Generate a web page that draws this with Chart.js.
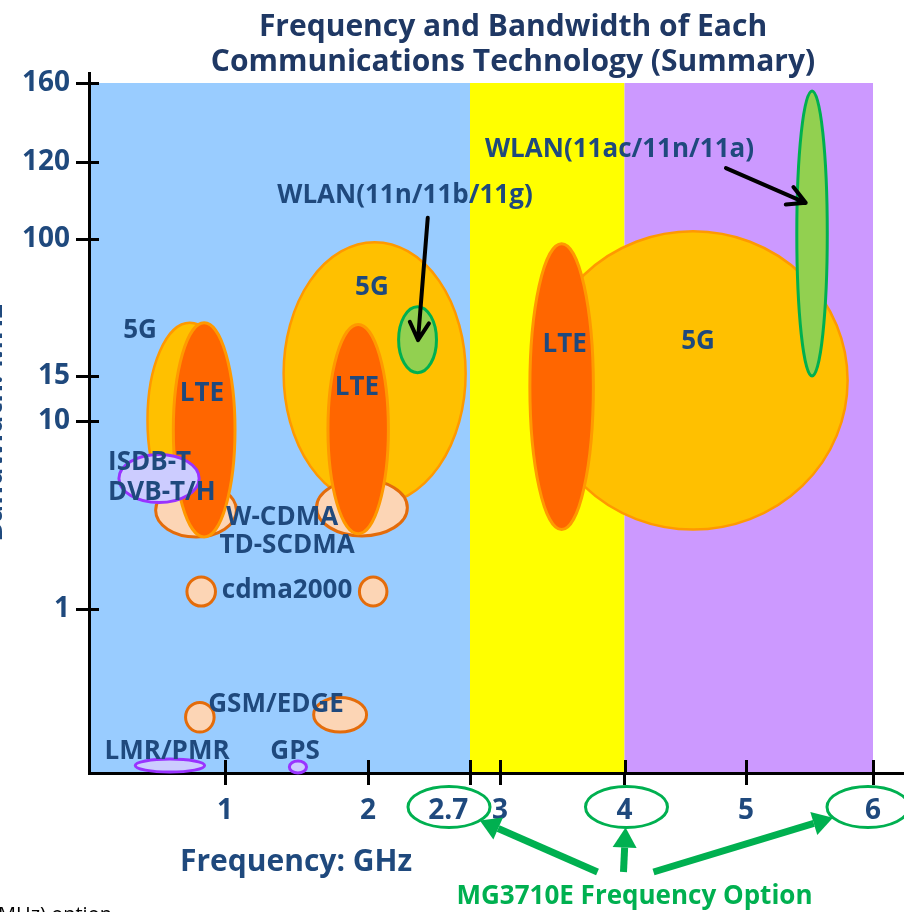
<!DOCTYPE html>
<html>
<head>
<meta charset="utf-8">
<script src="https://cdn.jsdelivr.net/npm/chart.js@4.4.1/dist/chart.umd.min.js"></script>
<style>
  html, body { margin: 0; padding: 0; background: #fff; overflow: hidden; width: 904px; height: 912px; }
  #wrap { position: absolute; left: -60px; top: 0; width: 1146px; height: 912px; }
</style>
</head>
<body>
<div id="wrap"><canvas id="chart" width="1146" height="912"></canvas></div>
<script>
// ---------------------------------------------------------------------------
// Data: frequency in GHz, channel bandwidth in MHz.
// Each region is [fLow, fHigh, bwLow, bwHigh].
// ---------------------------------------------------------------------------
const freqTicks   = [1, 2, 2.7, 3, 4, 5, 6];          // GHz
const bwTicks     = [1, 10, 15, 100, 120, 160];       // MHz
const optionFreqs = [2.7, 4, 6];                      // MG3710E frequency options (GHz)

const spectrumBands = [[0, 2.7], [2.7, 4], [4, 6]];   // shaded frequency ranges (GHz)
const bandTopBw = 160;                                // MHz

const technologies = ['5G', 'W-CDMA/TD-SCDMA', 'LTE', 'ISDB-T/DVB-T/H', 'WLAN',
                      'cdma2000', 'GSM/EDGE', 'LMR/PMR', 'GPS'];

const fiveG    = [[0.43, 1.05, 5.4, 48], [1.41, 2.67, 6.0, 98], [3.31, 5.80, 4.8, 102]];
const wcdma    = [[0.49, 1.08, 4.45, 7.0], [1.64, 2.27, 4.5, 7.2]];
const lte      = [[0.62, 1.07, 4.45, 48], [1.72, 2.14, 4.6, 47], [3.24, 3.75, 4.8, 97]];
const isdb     = [[0.22, 0.81, 6.1, 8.4]];
const wlan     = [[2.21, 2.47, 17, 58], [5.40, 5.64, 15, 156]];
const cdma2000 = [[0.72, 0.93, 1.14, 2.53], [1.94, 2.13, 1.14, 2.53]];
const gsm      = [[0.71, 0.92, 0.25, 0.43], [1.62, 1.99, 0.25, 0.46]];
const lmr      = [[0.34, 0.85, 0.006, 0.085]];
const gps      = [[1.45, 1.57, 0.0, 0.073]];

const regions = {
  '5G': fiveG, 'W-CDMA/TD-SCDMA': wcdma, 'LTE': lte, 'ISDB-T/DVB-T/H': isdb, 'WLAN': wlan,
  'cdma2000': cdma2000, 'GSM/EDGE': gsm, 'LMR/PMR': lmr, 'GPS': gps
};

// ---------------------------------------------------------------------------
// Styles
// ---------------------------------------------------------------------------
const NAVY = '#1F497D';
const TITLE_NAVY = '#1F3864';
const GREEN = '#00B050';
const FONT = '"Open Sans", "Noto Sans", sans-serif';

const bandColors = ['#99CCFF', '#FFFF00', '#CC99FF'];

const regionStyles = {
  '5G':              { fill: '#FFC000', line: '#FF9900', width: 2.5 },
  'W-CDMA/TD-SCDMA': { fill: '#FCD5B5', line: '#E46C0A', width: 3 },
  'LTE':             { fill: '#FF6600', line: '#FF9900', width: 3 },
  'ISDB-T/DVB-T/H':  { fill: '#CCCCFF', line: '#9933FF', width: 3 },
  'WLAN':            { fill: '#92D050', line: '#00B050', width: 3 },
  'cdma2000':        { fill: '#FCD5B5', line: '#E46C0A', width: 3 },
  'GSM/EDGE':        { fill: '#FCD5B5', line: '#E46C0A', width: 3 },
  'LMR/PMR':         { fill: '#CCCCFF', line: '#9933FF', width: 3 },
  'GPS':             { fill: '#CCCCFF', line: '#9933FF', width: 3 }
};

// Text labels placed in axis units (GHz, MHz)
const regionLabels = [
  { text: '5G',        f: 0.375, bw: 42.9 },
  { text: 'LTE',       f: 0.83,  bw: 13.1 },
  { text: 'LTE',       f: 1.923, bw: 13.7 },
  { text: '5G',        f: 2.027, bw: 69.6 },
  { text: 'WLAN(11n/11b/11g)',  f: 2.254, bw: 111.2 },
  { text: 'WLAN(11ac/11n/11a)', f: 3.96,  bw: 126.1 },
  { text: 'LTE',       f: 3.52,  bw: 34.2 },
  { text: '5G',        f: 4.605, bw: 36.1 },
  { text: 'ISDB-T',    f: 0.14,  bw: 7.99, align: 'left' },
  { text: 'DVB-T/H',   f: 0.14,  bw: 6.55, align: 'left' },
  { text: 'W-CDMA',    f: 1.40,  bw: 5.36 },
  { text: 'TD-SCDMA',  f: 1.434, bw: 4.02 },
  { text: 'cdma2000',  f: 1.434, bw: 1.86 },
  { text: 'GSM/EDGE',  f: 1.357, bw: 0.42 },
  { text: 'LMR/PMR',   f: 0.574, bw: 0.128 },
  { text: 'GPS',       f: 1.49,  bw: 0.128 }
];

// Pointer arrows from the WLAN captions to their regions (axis units)
const pointers = [
  { from: [2.41, 105.5],  to: [2.343, 37.3] },
  { from: [4.835, 118.4], to: [5.47, 109.4] }
];

// ---------------------------------------------------------------------------
// A linear scale with a piecewise (schematic) spacing between anchor values.
// Anchors are [value, axis position]; positions are normalised by the last one.
// ---------------------------------------------------------------------------
const WARP = {
  x: [[0, 0], [1, 136], [2, 279], [2.7, 381], [3, 411], [4, 535.5], [5, 657], [6, 784], [7.677, 997]],
  y: [[0, 0], [1, 164], [10, 352], [15, 397], [100, 534], [120, 611], [160, 690], [165, 700]]
};

function warpDecimal(anchors, v) {
  const total = anchors[anchors.length - 1][1];
  for (let i = 1; i < anchors.length; i++) {
    const [v0, p0] = anchors[i - 1];
    const [v1, p1] = anchors[i];
    if (v <= v1 || i === anchors.length - 1) {
      return (p0 + (v - v0) * (p1 - p0) / (v1 - v0)) / total;
    }
  }
  return 0;
}

function unwarpDecimal(anchors, d) {
  const total = anchors[anchors.length - 1][1];
  const p = d * total;
  for (let i = 1; i < anchors.length; i++) {
    const [v0, p0] = anchors[i - 1];
    const [v1, p1] = anchors[i];
    if (p <= p1 || i === anchors.length - 1) {
      return v0 + (p - p0) * (v1 - v0) / (p1 - p0);
    }
  }
  return 0;
}

class WarpScale extends Chart.LinearScale {
  getPixelForValue(value) {
    if (value === null || value === undefined || isNaN(value)) return NaN;
    return this.getPixelForDecimal(warpDecimal(WARP[this.axis], value));
  }
  getValueForPixel(pixel) {
    return unwarpDecimal(WARP[this.axis], this.getDecimalForPixel(pixel));
  }
}
WarpScale.id = 'warp';
Chart.register(WarpScale);

// ---------------------------------------------------------------------------
// Datasets: each region is carried by its two corner points
// ---------------------------------------------------------------------------
const datasets = [];
technologies.forEach(tech => {
  regions[tech].forEach(r => {
    const st = regionStyles[tech];
    datasets.push({
      label: tech,
      data: [{ x: r[0], y: r[2] }, { x: r[1], y: r[3] }],
      backgroundColor: st.fill,
      borderColor: st.line,
      borderWidth: st.width,
      pointRadius: 0,
      pointHoverRadius: 0,
      showLine: false
    });
  });
});

function arrowLine(ctx, x0, y0, x1, y1, width, head, color) {
  const ang = Math.atan2(y1 - y0, x1 - x0);
  ctx.save();
  ctx.strokeStyle = color;
  ctx.lineWidth = width;
  ctx.lineCap = 'round';
  ctx.lineJoin = 'round';
  ctx.beginPath();
  ctx.moveTo(x0, y0);
  ctx.lineTo(x1, y1);
  ctx.moveTo(x1 - head * Math.cos(ang - 0.5), y1 - head * Math.sin(ang - 0.5));
  ctx.lineTo(x1, y1);
  ctx.lineTo(x1 - head * Math.cos(ang + 0.5), y1 - head * Math.sin(ang + 0.5));
  ctx.stroke();
  ctx.restore();
}

function blockArrow(ctx, x0, y0, x1, y1, width, headLen, headHalf, color) {
  const ang = Math.atan2(y1 - y0, x1 - x0);
  const bx = x1 - headLen * Math.cos(ang), by = y1 - headLen * Math.sin(ang);
  ctx.save();
  ctx.strokeStyle = color;
  ctx.fillStyle = color;
  ctx.lineWidth = width;
  ctx.beginPath();
  ctx.moveTo(x0, y0);
  ctx.lineTo(bx, by);
  ctx.stroke();
  ctx.beginPath();
  ctx.moveTo(x1, y1);
  ctx.lineTo(bx + headHalf * Math.sin(ang), by - headHalf * Math.cos(ang));
  ctx.lineTo(bx - headHalf * Math.sin(ang), by + headHalf * Math.cos(ang));
  ctx.closePath();
  ctx.fill();
  ctx.restore();
}

const regionPlugin = {
  id: 'regionPlugin',
  beforeDraw(chart) {
    // shaded frequency ranges behind everything
    const { ctx, scales: { x, y } } = chart;
    const yTop = y.getPixelForValue(bandTopBw);
    const yBot = y.getPixelForValue(0);
    ctx.save();
    spectrumBands.forEach((b, i) => {
      const x0 = x.getPixelForValue(b[0]);
      const x1 = x.getPixelForValue(b[1]);
      ctx.fillStyle = bandColors[i];
      ctx.fillRect(x0, yTop, x1 - x0, yBot - yTop);
    });
    ctx.restore();
  },
  beforeDatasetsDraw(chart) {
    // tick marks continue a little inside the plot
    const { ctx, chartArea, scales: { x, y } } = chart;
    ctx.save();
    ctx.strokeStyle = '#000';
    ctx.lineWidth = 3;
    ctx.beginPath();
    x.ticks.forEach((t, i) => {
      const px = Math.round(x.getPixelForTick(i)) + 0.5;
      ctx.moveTo(px, chartArea.bottom);
      ctx.lineTo(px, chartArea.bottom - 13);
    });
    y.ticks.forEach((t, i) => {
      const py = Math.round(y.getPixelForTick(i)) + 0.5;
      ctx.moveTo(chartArea.left, py);
      ctx.lineTo(chartArea.left + 10, py);
    });
    ctx.stroke();
    ctx.restore();
  },
  afterDatasetsDraw(chart) {
    const { ctx, scales: { x, y } } = chart;
    ctx.save();
    // region ellipses spanning each dataset's frequency and bandwidth range
    chart.data.datasets.forEach((ds, i) => {
      const pts = chart.getDatasetMeta(i).data;
      const cx = (pts[0].x + pts[1].x) / 2;
      const cy = (pts[0].y + pts[1].y) / 2;
      const rx = Math.abs(pts[1].x - pts[0].x) / 2;
      const ry = Math.abs(pts[1].y - pts[0].y) / 2;
      ctx.beginPath();
      ctx.ellipse(cx, cy, rx, ry, 0, 0, Math.PI * 2);
      ctx.fillStyle = ds.backgroundColor;
      ctx.fill();
      ctx.lineWidth = ds.borderWidth;
      ctx.strokeStyle = ds.borderColor;
      ctx.stroke();
    });
    // region captions
    ctx.fillStyle = NAVY;
    ctx.font = 'bold 26px ' + FONT;
    ctx.textBaseline = 'middle';
    regionLabels.forEach(l => {
      ctx.textAlign = l.align || 'center';
      ctx.fillText(l.text, x.getPixelForValue(l.f), y.getPixelForValue(l.bw));
    });
    // pointer arrows
    pointers.forEach(p => {
      arrowLine(ctx,
        x.getPixelForValue(p.from[0]), y.getPixelForValue(p.from[1]),
        x.getPixelForValue(p.to[0]), y.getPixelForValue(p.to[1]), 4, 20, '#000');
    });
    ctx.restore();
  },
  afterDraw(chart) {
    const { ctx, chartArea, scales: { x } } = chart;
    ctx.save();
    // axis caption
    ctx.fillStyle = NAVY;
    ctx.font = 'bold 30px ' + FONT;
    ctx.textAlign = 'center';
    ctx.textBaseline = 'middle';
    ctx.fillText('Frequency: GHz', chartArea.left + 207, chartArea.bottom + 89);

    // MG3710E frequency options: circled tick labels with arrows
    const labelY = chartArea.bottom + 34;
    const optShift = { 2.7: -21, 4: 2, 6: -5 };
    const rx = 41, ry = 20.5;
    const textX = x.getPixelForValue(4) + 10;
    const textY = chartArea.bottom + 124;
    const tails = [[-37, -25], [-11, -25], [19, -25]];
    ctx.strokeStyle = GREEN;
    ctx.lineWidth = 3;
    optionFreqs.forEach((f, i) => {
      const cx = x.getPixelForValue(f) + optShift[f];
      const cy = labelY;
      ctx.beginPath();
      ctx.ellipse(cx, cy, rx, ry, 0, 0, Math.PI * 2);
      ctx.stroke();
      const tx = textX + tails[i][0], ty = textY + tails[i][1];
      const t = Math.atan2((ty - cy) / ry, (tx - cx) / rx);
      blockArrow(ctx, tx, ty, cx + rx * Math.cos(t), cy + ry * Math.sin(t), 7, 20, 12, GREEN);
    });
    ctx.fillStyle = GREEN;
    ctx.font = 'bold 26px ' + FONT;
    ctx.textAlign = 'center';
    ctx.textBaseline = 'middle';
    ctx.fillText('MG3710E Frequency Option', textX, textY);

    // footnote
    ctx.fillStyle = '#000';
    ctx.font = '20px ' + FONT;
    ctx.textAlign = 'left';
    ctx.textBaseline = 'alphabetic';
    ctx.fillText('MHz) option', 58, 921);
    ctx.restore();
  }
};

new Chart(document.getElementById('chart'), {
  type: 'scatter',
  data: { datasets },
  options: {
    responsive: false,
    devicePixelRatio: 1,
    animation: false,
    events: [],
    layout: { padding: 0 },
    plugins: {
      legend: { display: false },
      tooltip: { enabled: false },
      title: {
        display: true,
        text: ['Frequency and Bandwidth of Each', 'Communications Technology (Summary)'],
        color: TITLE_NAVY,
        font: { family: FONT, size: 30, weight: 'bold', lineHeight: 1.1667 },
        padding: { top: 9.5, bottom: -6.5 }
      }
    },
    scales: {
      x: {
        type: 'warp',
        min: 0, max: 7.677,
        bounds: 'data',
        afterBuildTicks: s => { s.ticks = freqTicks.map(v => ({ value: v })); },
        afterFit: s => { s.height = 139; },
        ticks: {
          autoSkip: false, maxRotation: 0, minRotation: 0, padding: 9,
          color: NAVY,
          font: { family: FONT, size: 28, weight: 'bold' },
          callback: v => (v === 2.7 ? '2.7      ' : String(v))
        },
        grid: { drawOnChartArea: false, drawTicks: true, tickLength: 12, tickWidth: 3, tickColor: '#000', color: '#000' },
        border: { display: true, color: '#000', width: 3 }
      },
      y: {
        type: 'warp',
        min: 0, max: 165,
        bounds: 'data',
        afterBuildTicks: s => { s.ticks = bwTicks.map(v => ({ value: v })); },
        afterFit: s => { s.width = 149; },
        ticks: {
          autoSkip: false, padding: 6,
          color: NAVY,
          font: { family: FONT, size: 28, weight: 'bold' },
          callback: v => String(v)
        },
        grid: { drawOnChartArea: false, drawTicks: true, tickLength: 13, tickWidth: 3, tickColor: '#000', color: '#000' },
        border: { display: true, color: '#000', width: 3 },
        title: {
          display: true,
          text: 'Bandwidth: MHz',
          color: NAVY,
          font: { family: FONT, size: 29, weight: 'bold' },
          padding: { top: 36, bottom: 0 }
        }
      }
    }
  },
  plugins: [regionPlugin]
});
</script>
</body>
</html>
